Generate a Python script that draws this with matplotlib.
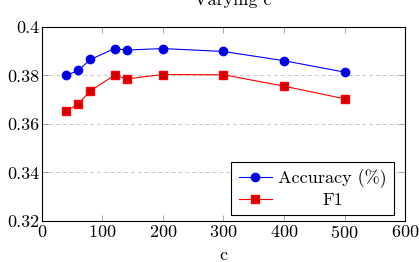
import matplotlib
matplotlib.use('Agg')
import matplotlib.pyplot as plt

plt.rcParams['font.family'] = 'cmr10'
plt.rcParams['mathtext.fontset'] = 'cm'
plt.rcParams['axes.formatter.use_mathtext'] = True

# values
c_values = [40, 60, 80, 120, 140, 200, 300, 400, 500]
accuracy = [0.3800, 0.3821, 0.3866, 0.3911, 0.3905, 0.3911, 0.3899, 0.3861, 0.3814]
f1 = [0.3653, 0.3683, 0.3737, 0.3801, 0.3786, 0.3804, 0.3803, 0.3756, 0.3704]
x_ticks = [0, 100, 200, 300, 400, 500, 600]
y_ticks = [0.32, 0.34, 0.36, 0.38, 0.40]
y_labels = ['0.32', '0.34', '0.36', '0.38', '0.4']

fs = 13

fig = plt.figure(figsize=(4.19, 2.62), dpi=100)
ax = fig.add_axes([0.1002, 0.1565, 0.8664, 0.7405])

ax.plot(c_values, accuracy, color='#0000ff', lw=0.8, marker='o', markersize=6,
        markerfacecolor='#0000cc', markeredgecolor='#0000ff', label='Accuracy (%)')
ax.plot(c_values, f1, color='#ff0000', lw=0.8, marker='s', markersize=5.5,
        markerfacecolor='#cc0000', markeredgecolor='#ff0000', label='F1')

ax.set_xlim(0, 600)
ax.set_ylim(0.32, 0.40)
ax.set_xticks(x_ticks)
ax.set_yticks(y_ticks)
ax.set_yticklabels(y_labels)
ax.tick_params(direction='in', top=True, right=True, length=4, width=0.6,
               color='#999999', labelsize=fs, pad=2)
ax.grid(axis='y', color='#c8c8c8', linestyle=(0, (4, 3)), lw=0.7)
for s in ax.spines.values():
    s.set_linewidth(0.8)

ax.set_xlabel('c', fontsize=fs, labelpad=5)
fig.text(0.555, 1.0, 'Varying c', ha='center', va='center', fontsize=fs)

leg = ax.legend(loc='lower right', bbox_to_anchor=(0.97, 0.03), borderaxespad=0,
                fontsize=fs, fancybox=False, edgecolor='black', framealpha=1,
                handlelength=1.85, labelspacing=0.25, handletextpad=0.35,
                borderpad=0.4)
leg.get_frame().set_linewidth(0.8)

# centre the shorter legend entry like pgfplots does
fig.canvas.draw()
renderer = fig.canvas.get_renderer()
widths = [t.get_window_extent(renderer).width for t in leg.get_texts()]
widest = max(widths)
for t, w in zip(leg.get_texts(), widths):
    t.set_position(((widest - w) / 2, 0))

fig.savefig('out.png', dpi=100)
